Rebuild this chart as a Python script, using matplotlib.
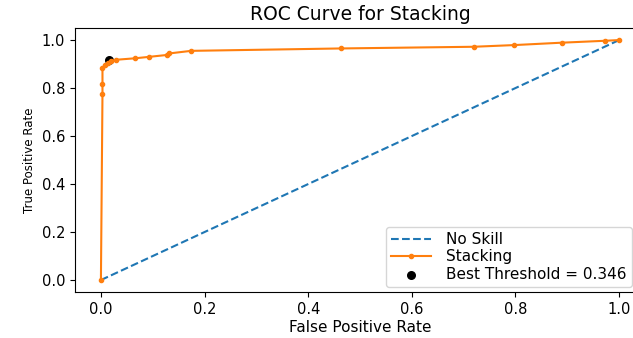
import matplotlib
matplotlib.use("Agg")
import matplotlib.pyplot as plt

# ROC points
fpr = [0.0, 0.003, 0.003, 0.003, 0.008, 0.014, 0.019, 0.030, 0.066, 0.093,
       0.128, 0.131, 0.174, 0.463, 0.719, 0.797, 0.889, 0.973, 1.0]
tpr = [0.0, 0.774, 0.817, 0.885, 0.896, 0.906, 0.912, 0.918, 0.924, 0.930,
       0.938, 0.944, 0.955, 0.965, 0.972, 0.979, 0.989, 0.997, 1.0]
no_skill = [0, 1]
best_fpr = [0.016]
best_tpr = [0.917]
best_thresh = 0.346

fig = plt.figure(figsize=(6.33, 3.38), dpi=100)
ax = fig.add_axes([0.1185, 0.136, 0.9005, 0.781])

ax.plot(no_skill, no_skill, linestyle='--', label='No Skill')
ax.plot(fpr, tpr, marker='.', label='Stacking')
ax.scatter(best_fpr, best_tpr, marker='o', color='black', s=30,
           label='Best Threshold = %.3f' % best_thresh)

ax.set_title('ROC Curve for Stacking', fontsize=13.5)
ax.set_xlabel('False Positive Rate', fontsize=11, labelpad=2)
ax.set_ylabel('True Positive Rate', fontsize=8.5)
ax.tick_params(labelsize=10.5)

ax.legend(loc='lower right', fontsize=11, bbox_to_anchor=(0.998, 0.151),
          bbox_transform=fig.transFigure, borderaxespad=0,
          labelspacing=0.15, borderpad=0.35, handlelength=2.6,
          handletextpad=1.0)

fig.savefig('out.png', dpi=100)
